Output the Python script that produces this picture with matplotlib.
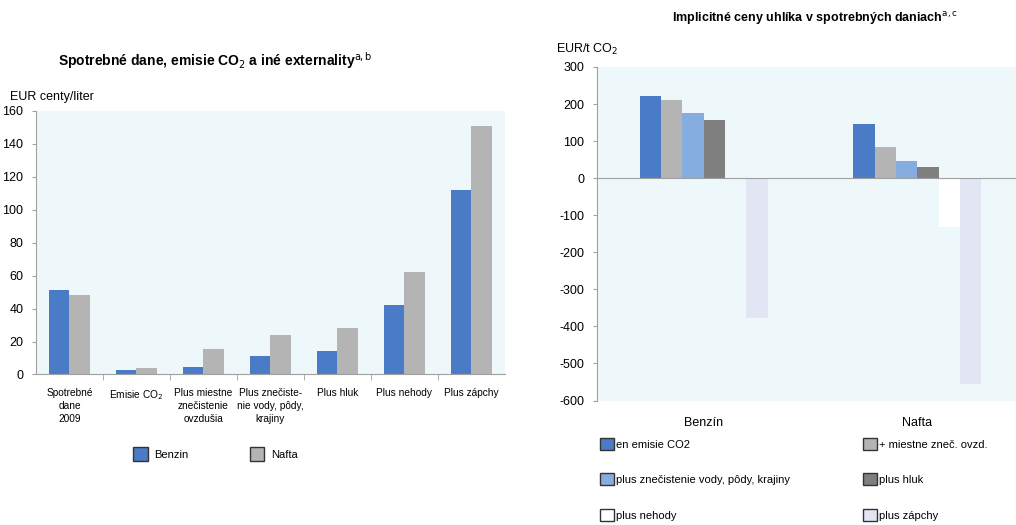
import numpy as np
import matplotlib
matplotlib.use('Agg')
import matplotlib.pyplot as plt
from matplotlib.patches import Patch

plt.rcParams['font.family'] = ['Liberation Sans Narrow', 'Liberation Sans', 'DejaVu Sans']
plt.rcParams['axes.unicode_minus'] = False

# left panel data
categories = ['Spotrebné\ndane\n2009', 'Emisie CO$_2$', 'Plus miestne\nznečistenie\novzdušia',
              'Plus znečiste-\nnie vody, pôdy,\nkrajiny', 'Plus hluk', 'Plus nehody', 'Plus zápchy']
benzin = [51, 3, 4.5, 11, 14.5, 42, 112]
nafta = [48, 4, 15.5, 24, 28, 62, 151]

# right panel data
fuels = ['Benzín', 'Nafta']
series_names = ['en emisie CO2', '+ miestne zneč. ovzd.', 'plus znečistenie vody, pôdy, krajiny',
                'plus hluk', 'plus nehody', 'plus zápchy']
series_vals = [[221, 146],
               [211, 85],
               [177, 47],
               [158, 30],
               [0, -133],
               [-377, -556]]
series_colors = ['#4a7bc6', '#b4b4b4', '#86ade0', '#7f7f80', '#ffffff', '#e2e6f4']

bg = '#eef8fb'
spine_col = '#a0a0a0'

fig = plt.figure(figsize=(10.16, 5.25), dpi=100)

# ---------- left chart ----------
ax = fig.add_axes([0.0354, 0.2867, 0.4616, 0.5019])
ax.set_facecolor(bg)
x = np.arange(len(categories))
w = 0.305
ax.bar(x - w/2, benzin, w, color='#4a7bc6', label='Benzin')
ax.bar(x + w/2, nafta, w, color='#b4b4b4', label='Nafta')
ax.set_xlim(-0.5, len(categories) - 0.5)
ax.set_ylim(0, 160)
ax.set_yticks(range(0, 161, 20))
ax.set_xticks(x)
ax.set_xticklabels(categories, fontsize=7.3, linespacing=1.35)
ax.set_xticks(np.arange(0.5, len(categories) - 1, 1), minor=True)
ax.tick_params(axis='x', which='major', length=0, pad=10)
ax.tick_params(axis='x', which='minor', length=4, color=spine_col)
ax.tick_params(axis='y', labelsize=9, length=3, color=spine_col, pad=6)
for s in ['top', 'right']:
    ax.spines[s].set_visible(False)
for s in ['left', 'bottom']:
    ax.spines[s].set_color(spine_col)
    ax.spines[s].set_linewidth(0.8)
ax.text(-0.055, 1.03, 'EUR centy/liter', transform=ax.transAxes, fontsize=9, ha='left', va='bottom')
fig.text(0.212, 0.885, 'Spotrebné dane, emisie CO$_2$ a iné externality$^{\\mathrm{a,b}}$',
         fontsize=10, fontweight='bold', ha='center', va='center')
fig.legend(handles=[Patch(facecolor='#4a7bc6', edgecolor='#333333', label='Benzin'),
                    Patch(facecolor='#b4b4b4', edgecolor='#333333', label='Nafta')],
           loc='center', bbox_to_anchor=(0.212, 0.135), ncol=2, frameon=False, fontsize=8,
           handlelength=1.3, handleheight=1.5, columnspacing=5.5, handletextpad=0.6)

# ---------- right chart ----------
ax2 = fig.add_axes([0.5876, 0.2371, 0.4203, 0.6353])
ax2.set_facecolor(bg)
xf = np.arange(len(fuels))
bw = 0.1
n = len(series_names)
for i, (name, vals, c) in enumerate(zip(series_names, series_vals, series_colors)):
    ax2.bar(xf + (i - (n - 1) / 2) * bw, vals, bw, color=c, label=name)
ax2.axhline(0, color=spine_col, lw=0.8)
ax2.set_xlim(-0.5, 1.5)
ax2.set_ylim(-600, 300)
ax2.set_yticks(range(-600, 301, 100))
ax2.set_xticks(xf)
ax2.set_xticklabels(fuels, fontsize=9)
ax2.tick_params(axis='x', length=0, pad=12)
ax2.tick_params(axis='y', labelsize=9, length=3, color=spine_col, pad=6)
for s in ['top', 'right', 'bottom']:
    ax2.spines[s].set_visible(False)
ax2.spines['left'].set_color(spine_col)
ax2.spines['left'].set_linewidth(0.8)
ax2.text(-0.095, 1.03, 'EUR/t CO$_2$', transform=ax2.transAxes, fontsize=9, ha='left', va='bottom')
fig.text(0.802, 0.965, 'Implicitné ceny uhlíka v spotrebných daniach$^{\\mathrm{a,c}}$',
         fontsize=9, fontweight='bold', ha='center', va='center')

handles = [Patch(facecolor=c, edgecolor='#333333', label=nm) for nm, c in zip(series_names, series_colors)]
order = [0, 2, 4, 1, 3, 5]
fig.legend(handles=[handles[i] for i in order], loc='upper left', bbox_to_anchor=(0.591, 0.166),
           ncol=2, frameon=False, fontsize=8, handlelength=1.2, handleheight=1.3,
           handletextpad=0.2, columnspacing=6.6, labelspacing=2.1, borderaxespad=0, borderpad=0)

fig.savefig('out.png', dpi=100)
